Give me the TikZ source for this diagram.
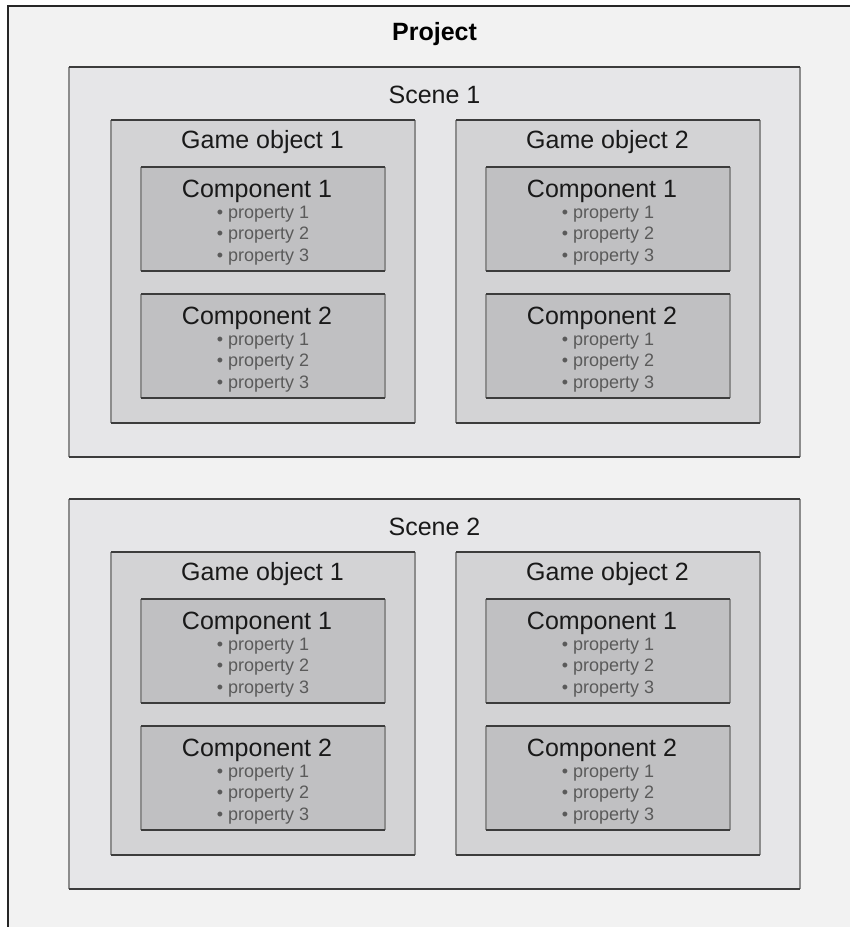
\documentclass[tikz,border=0pt]{standalone}
\usepackage{fontspec}
\setmainfont{Liberation Sans}
\definecolor{projfill}{HTML}{F2F2F2}
\definecolor{scenefill}{HTML}{E6E6E8}
\definecolor{gofill}{HTML}{D3D3D5}
\definecolor{compfill}{HTML}{C0C0C2}
\definecolor{darkedge}{HTML}{3C3C3C}
\definecolor{midedge}{HTML}{8C8C8C}
\definecolor{proptext}{HTML}{5A5A5A}
\newcommand\boxedges[1]{%
  \draw[edgemid] (#1.north west) -- (#1.south west) (#1.north east) -- (#1.south east);
  \draw[edgetop] (#1.north west) -- (#1.north east);
  \draw[edgebot] (#1.south west) -- (#1.south east);}
\begin{document}
\begin{tikzpicture}[x=1pt,y=-1pt,
  bx/.style={rectangle, inner sep=0pt, outer sep=0pt, anchor=north west},
  scenebox/.style={bx, fill=scenefill, minimum width=731pt, minimum height=390pt},
  gobox/.style={bx, fill=gofill, minimum width=304pt, minimum height=303pt},
  compbox/.style={bx, fill=compfill, minimum width=244pt, minimum height=104pt},
  edgemid/.style={draw=midedge, line width=1.4pt},
  edgetop/.style={draw=darkedge, line width=1.2pt},
  edgebot/.style={draw=darkedge, line width=1.8pt},
  hdr/.style={anchor=base, inner sep=0pt, font=\fontsize{25pt}{28pt}\selectfont, text=black!90},
  titletext/.style={anchor=base, inner sep=0pt, font=\fontsize{25pt}{28pt}\selectfont\bfseries, text=black},
  prop/.style={anchor=base, inner sep=0pt, font=\fontsize{18pt}{21pt}\selectfont, text=proptext}]
\useasboundingbox (0,0) rectangle (850,927);
\clip (0,0) rectangle (850,927);
\fill[white] (0,0) rectangle (850,927);
\node[bx, fill=projfill, minimum width=860pt, minimum height=940pt] (proj) at (8,6) {};
\draw[draw=black!85, line width=1.5pt] (proj.south west) -- (proj.north west) -- (proj.north east);
\node[titletext] (projt) at (434.5,40) {Project};
\foreach \sn/\sdy in {1/0,2/432} {
  \node[scenebox] (s\sn) at (69,67+\sdy) {};
  \boxedges{s\sn}
  \node[hdr] (s\sn t) at (434.5,103+\sdy) {Scene \sn};
  \foreach \gn/\gdx in {1/0,2/345} {
    \node[gobox] (s\sn g\gn) at (111+\gdx,120+\sdy) {};
    \boxedges{s\sn g\gn}
    \node[hdr] (s\sn g\gn t) at (262.5+\gdx,148+\sdy) {Game object \gn};
    \foreach \cn/\cdy in {1/0,2/127} {
      \node[compbox] (s\sn g\gn c\cn) at (141+\gdx,167+\sdy+\cdy) {};
      \boxedges{s\sn g\gn c\cn}
      \node[hdr] (s\sn g\gn c\cn t) at (257+\gdx,197+\sdy+\cdy) {Component \cn};
      \foreach \pn/\pdy in {1/0,2/21.5,3/43}
        \node[prop] (s\sn g\gn c\cn p\pn) at (263+\gdx,218+\sdy+\cdy+\pdy) {• property \pn};
    }
  }
}
\end{tikzpicture}
\end{document}
